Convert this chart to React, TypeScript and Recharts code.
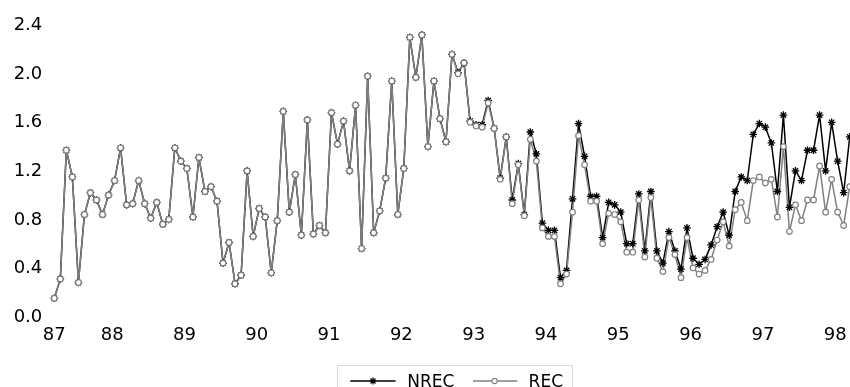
import React from 'react';
import { LineChart, Line, XAxis, YAxis } from 'recharts';

// Year labels on the category (monthly) axis
const yearLabels = ['87', '88', '89', '90', '91', '92', '93', '94', '95', '96', '97', '98'];
// months from first observation to the first January tick
const FIRST_JAN_OFFSET = 9.6;

const yTicks = [0, 0.4, 0.8, 1.2, 1.6, 2.0, 2.4];

const REC = [
  0.14, 0.30, 1.36, 1.14, 0.27, 0.83, 1.01, 0.95, 0.83, 0.99,
  1.11, 1.38, 0.91, 0.92, 1.11, 0.92, 0.80, 0.93, 0.75, 0.79,
  1.38, 1.27, 1.21, 0.81, 1.30, 1.02, 1.06, 0.94, 0.43, 0.60,
  0.26, 0.33, 1.19, 0.65, 0.88, 0.81, 0.35, 0.78, 1.68, 0.85,
  1.16, 0.66, 1.61, 0.67, 0.74, 0.68, 1.67, 1.41, 1.60, 1.19,
  1.73, 0.55, 1.97, 0.68, 0.86, 1.13, 1.93, 0.83, 1.21, 2.29,
  1.96, 2.31, 1.39, 1.93, 1.62, 1.43, 2.15, 1.99, 2.08, 1.59,
  1.56, 1.55, 1.75, 1.54, 1.12, 1.47, 0.92, 1.24, 0.82, 1.45,
  1.27, 0.72, 0.65, 0.65, 0.26, 0.34, 0.85, 1.48, 1.24, 0.94,
  0.94, 0.59, 0.84, 0.83, 0.77, 0.52, 0.52, 0.95, 0.48, 0.97,
  0.47, 0.36, 0.64, 0.50, 0.31, 0.64, 0.39, 0.34, 0.37, 0.46,
  0.62, 0.77, 0.57, 0.87, 0.93, 0.78, 1.11, 1.14, 1.09, 1.12,
  0.81, 1.39, 0.69, 0.91, 0.78, 0.95, 0.95, 1.23, 0.85, 1.12,
  0.85, 0.74, 1.06,
];

const NREC = [
  0.14, 0.30, 1.36, 1.14, 0.27, 0.83, 1.01, 0.95, 0.83, 0.99,
  1.11, 1.38, 0.91, 0.92, 1.11, 0.92, 0.80, 0.93, 0.75, 0.79,
  1.38, 1.27, 1.21, 0.81, 1.30, 1.02, 1.06, 0.94, 0.43, 0.60,
  0.26, 0.33, 1.19, 0.65, 0.88, 0.81, 0.35, 0.78, 1.68, 0.85,
  1.16, 0.66, 1.61, 0.67, 0.74, 0.68, 1.67, 1.41, 1.60, 1.19,
  1.73, 0.55, 1.97, 0.68, 0.86, 1.13, 1.93, 0.83, 1.21, 2.29,
  1.96, 2.31, 1.39, 1.93, 1.62, 1.43, 2.15, 2.00, 2.08, 1.60,
  1.57, 1.57, 1.77, 1.54, 1.13, 1.47, 0.95, 1.25, 0.83, 1.51,
  1.33, 0.76, 0.70, 0.70, 0.31, 0.37, 0.96, 1.58, 1.31, 0.98,
  0.98, 0.64, 0.93, 0.91, 0.85, 0.59, 0.59, 1.00, 0.53, 1.02,
  0.53, 0.43, 0.69, 0.53, 0.38, 0.72, 0.47, 0.42, 0.46, 0.58,
  0.73, 0.85, 0.66, 1.02, 1.14, 1.11, 1.49, 1.58, 1.55, 1.42,
  1.02, 1.65, 0.89, 1.19, 1.11, 1.36, 1.36, 1.65, 1.19, 1.59,
  1.27, 1.01, 1.47,
];

const data = REC.map((r, i) => ({ i, NREC: NREC[i], REC: r }));
const xTicks = yearLabels.map((_, k) => (k === 0 ? 0 : FIRST_JAN_OFFSET + 12 * (k - 1)));
const tickLabelAt = (v: number) => {
  const k = xTicks.findIndex((t) => Math.abs(t - v) < 1e-6);
  return k >= 0 ? yearLabels[k] : '';
};

const FONT = '"DejaVu Sans", Verdana, sans-serif';
const NREC_COLOR = '#000000';
const REC_COLOR = '#808080';

const starPath = (cx: number, cy: number, r: number) => {
  const d = r * 0.707;
  return `M${cx},${cy - r}L${cx},${cy + r}M${cx - r},${cy}L${cx + r},${cy}M${cx - d},${cy - d}L${cx + d},${cy + d}M${cx - d},${cy + d}L${cx + d},${cy - d}`;
};

const StarDot = (props: any) => {
  const { cx, cy, index } = props;
  if (cx == null || cy == null) return <g key={`s${index}`} />;
  return <path key={`s${index}`} d={starPath(cx, cy, 3.8)} stroke={NREC_COLOR} strokeWidth={1.3} fill="none" />;
};

const CircleDot = (props: any) => {
  const { cx, cy, index } = props;
  if (cx == null || cy == null) return <g key={`c${index}`} />;
  return <circle key={`c${index}`} cx={cx} cy={cy} r={2.8} fill="#ffffff" stroke={REC_COLOR} strokeWidth={1.2} />;
};

const LegendBox = () => (
  <div
    style={{
      position: 'absolute',
      left: 328.7,
      top: 357,
      width: 236.6,
      height: 34,
      border: '1px solid #d9d9d9',
      background: '#fff',
      boxSizing: 'border-box',
    }}
  >
    <svg width={236} height={32} style={{ position: 'absolute', left: 0, top: 0 }}>
      <line x1={12.3} y1={15} x2={57.6} y2={15} stroke={NREC_COLOR} strokeWidth={1.3} />
      <path d={starPath(35, 15, 3.5)} stroke={NREC_COLOR} strokeWidth={1.2} fill="none" />
      <text x={69.3} y={15} dy="0.355em" fontFamily={FONT} fontSize={17} fill="#000">NREC</text>
      <line x1={135} y1={15} x2={179.3} y2={15} stroke={REC_COLOR} strokeWidth={1.3} />
      <circle cx={156.6} cy={15} r={2.6} fill="#fff" stroke={REC_COLOR} strokeWidth={1.1} />
      <text x={190.6} y={15} dy="0.355em" fontFamily={FONT} fontSize={17} fill="#000">REC</text>
    </svg>
  </div>
);

export default function App() {
  return (
    <div style={{ position: 'fixed', left: 8, top: 8, width: 842, height: 379, overflow: 'hidden' }}>
      <LineChart
        width={842}
        height={379}
        data={data}
        margin={{ top: 16, right: 0.3, bottom: 41.7, left: 0 }}
      >
        <XAxis
          dataKey="i"
          type="number"
          domain={[0, 132]}
          ticks={xTicks}
          interval={0}
          tickFormatter={tickLabelAt}
          axisLine={false}
          tickLine={false}
          tickMargin={6}
          height={30}
          tick={{ fontSize: 18, fill: '#000', fontFamily: FONT }}
        />
        <YAxis
          type="number"
          domain={[0, 2.4]}
          ticks={yTicks}
          interval={0}
          tickFormatter={(v: number) => v.toFixed(1)}
          axisLine={false}
          tickLine={false}
          tickMargin={6}
          width={46.3}
          tick={{ fontSize: 18, fill: '#000', fontFamily: FONT }}
        />
        <Line
          type="linear"
          dataKey="NREC"
          stroke={NREC_COLOR}
          strokeWidth={1.5}
          dot={StarDot}
          activeDot={false}
          isAnimationActive={false}
        />
        <Line
          type="linear"
          dataKey="REC"
          stroke={REC_COLOR}
          strokeWidth={1.5}
          dot={CircleDot}
          activeDot={false}
          isAnimationActive={false}
        />
      </LineChart>
      <LegendBox />
    </div>
  );
}
